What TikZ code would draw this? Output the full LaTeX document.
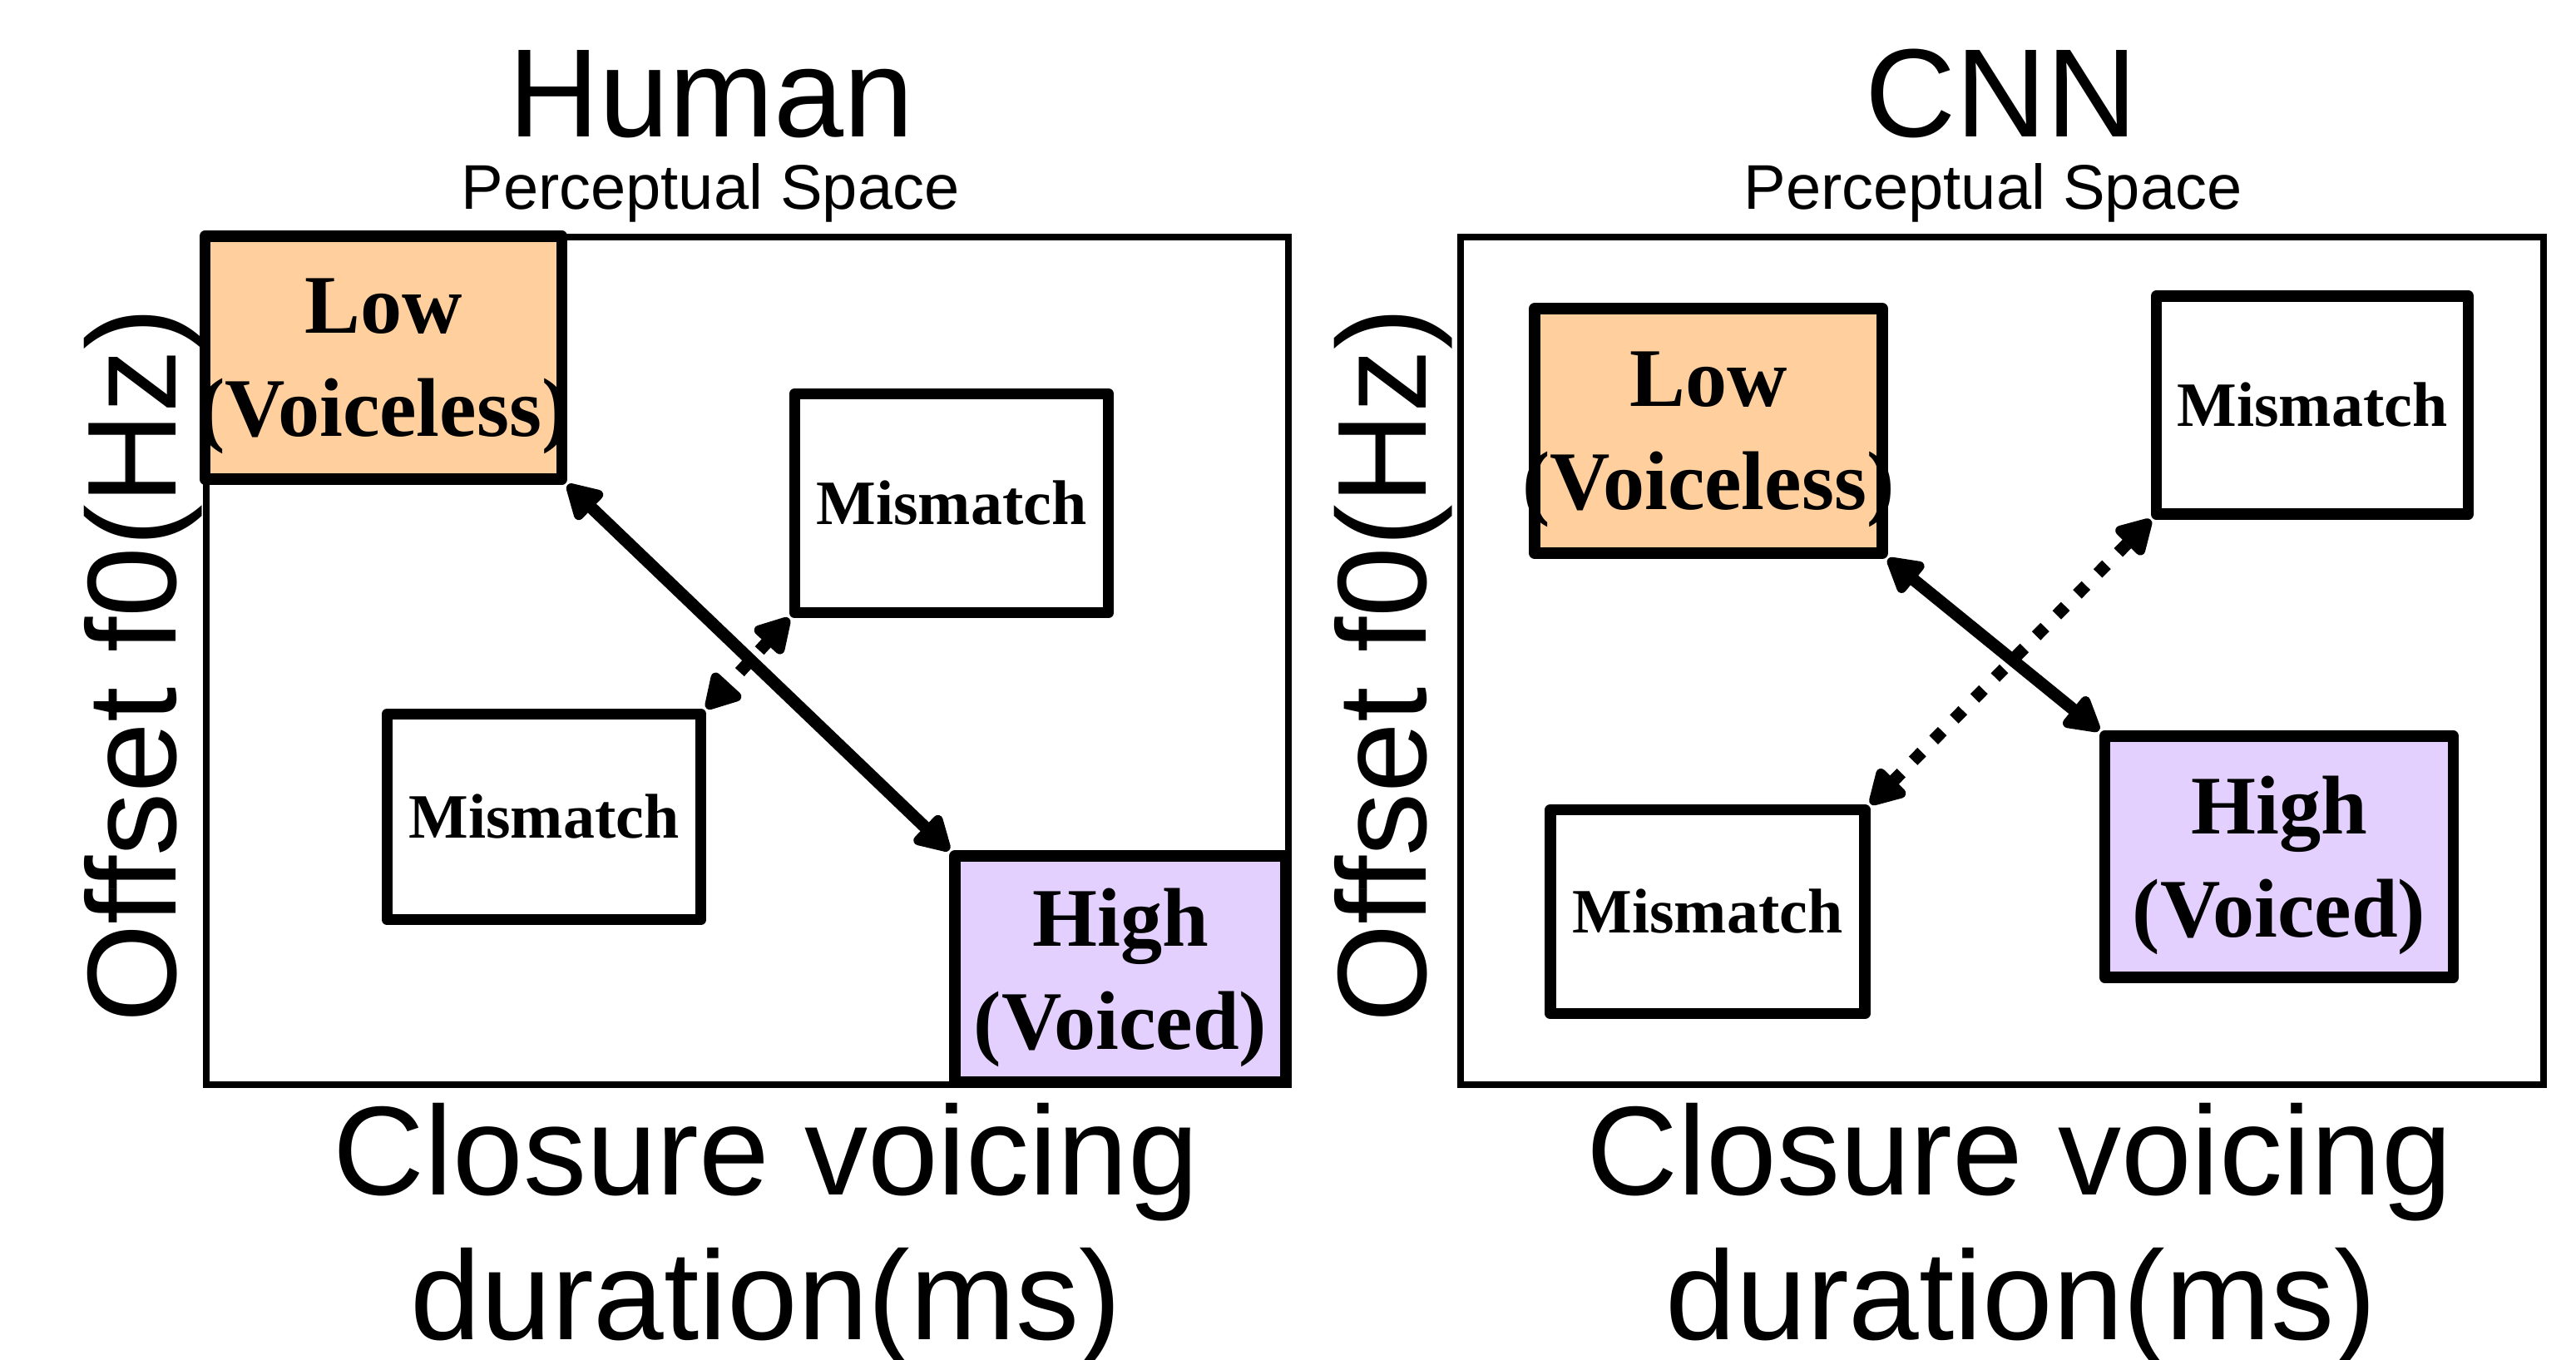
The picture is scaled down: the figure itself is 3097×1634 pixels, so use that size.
\documentclass[tikz,border=0pt]{standalone}
\usepackage{fontspec}
\setmainfont{Liberation Serif}
\newfontfamily\labfont{Liberation Sans}
\usetikzlibrary{arrows.meta}
\definecolor{lowc}{RGB}{255,208,158}
\definecolor{highc}{RGB}{228,208,255}
\begin{document}
\begin{tikzpicture}[x=0.1mm,y=-0.1mm,
  frame/.style={draw,line width=2.2pt},
  catbox/.style={draw,line width=3.9pt,line join=round,inner sep=0pt},
  twoline/.style={catbox,font=\fontsize{28.5}{35.3}\selectfont\bfseries,align=center,text depth=0pt},
  oneline/.style={catbox,font=\fontsize{21.6}{26}\selectfont\bfseries},
  bigtitle/.style={anchor=base,inner sep=0pt,font=\labfont\fontsize{43}{50}\selectfont},
  subtitle/.style={anchor=base,inner sep=0pt,font=\labfont\fontsize{21.6}{26}\selectfont},
  axislab/.style={anchor=base,inner sep=0pt,font=\labfont\fontsize{43.3}{50}\selectfont},
  tipA/.tip={Triangle[length=13.5pt,width=14.5pt,round]},
  mainarrow/.style={line width=4.2pt,tipA-tipA},
  dotarrow/.style={line width=4.2pt,dash pattern=on 4.2pt off 5.8pt,tipA-tipA}
]
\useasboundingbox (0,0) rectangle (3097,1634);

% ---------- left panel ----------
\node[bigtitle] (tH) at (855,164) {Human};
\node[subtitle] (sH) at (854,251) {Perceptual Space};
\draw[frame] (248,285) rectangle (1549,1304);
\node[axislab,rotate=90] (yL) at (211,800) {Offset f0(Hz)};
\node[axislab] (xL1) at (921,1436) {Closure voicing};
\node[axislab] (xL2) at (921,1610) {duration(ms)};

\node[twoline,fill=lowc,minimum width=42.9mm,minimum height=29.2mm] (lowL) at (461,430)
  {\makebox[0pt]{Low}\\\makebox[0pt]{(Voiceless)}};
\node[oneline,fill=white,minimum width=37.7mm,minimum height=26.3mm] (mmTL) at (1144,605) {Mismatch};
\node[oneline,fill=white,minimum width=37.7mm,minimum height=24.7mm] (mmBL) at (654,982) {Mismatch};
\node[twoline,fill=highc,minimum width=39.8mm,minimum height=27.2mm] (highL) at (1347,1165)
  {\makebox[0pt]{High}\\\makebox[0pt]{(Voiced)}};

\draw[mainarrow] (lowL.south east) -- (highL.north west);
\draw[dotarrow] (mmTL.south west) -- (mmBL.north east);

% ---------- right panel ----------
\node[bigtitle] (tC) at (2406,164) {CNN};
\node[subtitle] (sC) at (2396,251) {Perceptual Space};
\draw[frame] (1756,285) rectangle (3058,1304);
\node[axislab,rotate=90] (yR) at (1714,800) {Offset f0(Hz)};
\node[axislab] (xR1) at (2428,1436) {Closure voicing};
\node[axislab] (xR2) at (2430,1610) {duration(ms)};

\node[twoline,fill=lowc,minimum width=41.8mm,minimum height=29.4mm] (lowR) at (2054,518)
  {\makebox[0pt]{Low}\\\makebox[0pt]{(Voiceless)}};
\node[oneline,fill=white,minimum width=37.5mm,minimum height=26.2mm] (mmTR) at (2780,487) {Mismatch};
\node[oneline,fill=white,minimum width=37.8mm,minimum height=24.5mm] (mmBR) at (2053,1096) {Mismatch};
\node[twoline,fill=highc,minimum width=41.9mm,minimum height=29.0mm] (highR) at (2740,1030)
  {\makebox[0pt]{High}\\\makebox[0pt]{(Voiced)}};

\draw[mainarrow] (lowR.south east) -- (highR.north west);
\draw[dotarrow] (mmBR.north east) -- (mmTR.south west);
\end{tikzpicture}
\end{document}
